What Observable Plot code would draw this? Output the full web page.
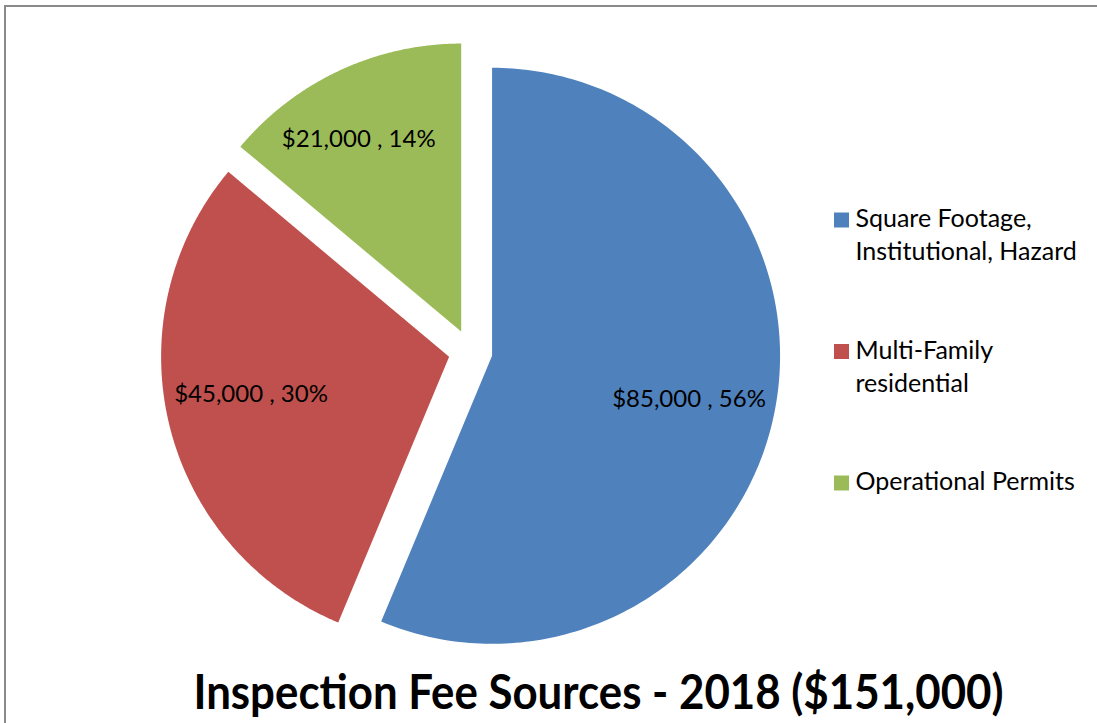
<!DOCTYPE html>
<html>
<head>
<meta charset="utf-8">
<script src="https://cdn.jsdelivr.net/npm/d3@7"></script>
<script src="https://cdn.jsdelivr.net/npm/@observablehq/plot@0.6"></script>
<style>
  html, body { margin: 0; padding: 0; background: #fff; }
  #wrap { position: relative; width: 1097px; height: 723px; overflow: hidden; }
  #frame { position: absolute; left: 4px; top: 5px; width: 1200px; height: 800px;
           border-top: 2px solid #8a8a8a; border-left: 2px solid #8a8a8a; box-sizing: border-box; }
  #chart { position: absolute; left: 0; top: 0; }
</style>
</head>
<body>
<div id="wrap"><div id="frame"></div><div id="chart"></div></div>
<script>
// ---- data ----
const categories = ["Square Footage, Institutional, Hazard", "Multi-Family residential", "Operational Permits"];
const values = [85000, 45000, 21000];
const legendLines = [["Square Footage,", "Institutional, Hazard"], ["Multi-Family", "residential"], ["Operational Permits"]];
const colors = ["#4F81BD", "#C0504D", "#9BBB59"];
const title = "Inspection Fee Sources - 2018 ($151,000)";

// ---- layout ----
const W = 1097, H = 723;
const cx = 470, cy = 351, R = 288, explode = 22;
const labelRadius = [0.70, 0.70, 0.757];
const labelShiftDeg = [1, 3, -3];
const font = "Lato, 'Open Sans', sans-serif";

const total = d3.sum(values);
const fmt = d3.format(",");
const rows = categories.map((name, i) => ({name, value: values[i], i}));
const arcs = d3.pie().sort(null).value(d => d.value).startAngle(0).endAngle(2 * Math.PI)(rows);

const polar = (ox, oy, r, a) => [ox + r * Math.sin(a), oy - r * Math.cos(a)];

const slicePts = [];
const labels = [];
arcs.forEach(a => {
  const mid = (a.startAngle + a.endAngle) / 2;
  const [ox, oy] = polar(cx, cy, explode, mid);
  slicePts.push({name: a.data.name, x: ox, y: oy});
  const n = 200;
  for (let k = 0; k <= n; k++) {
    const t = a.startAngle + (a.endAngle - a.startAngle) * k / n;
    const [x, y] = polar(ox, oy, R, t);
    slicePts.push({name: a.data.name, x, y});
  }
  const la = mid + labelShiftDeg[a.data.i] * Math.PI / 180;
  const [lx, ly] = polar(ox, oy, R * labelRadius[a.data.i], la);
  labels.push({x: lx, y: ly, text: `$${fmt(a.data.value)} , ${Math.round(a.data.value / total * 100)}%`});
});

// legend layout
const legX = 834, legSize = 15, legY0 = 220, legStep = 131.5, legLine = 33;
const legSquares = categories.map((name, i) => ({name, y: legY0 + i * legStep}));
const legText = [];
legendLines.forEach((lines, i) => lines.forEach((t, j) => legText.push({t, y: legY0 - 1.5 + i * legStep + j * legLine})));

const plot = Plot.plot({
  width: W, height: H,
  margin: 0,
  x: {domain: [0, W], range: [0, W], axis: null},
  y: {domain: [0, H], range: [0, H], axis: null},
  color: {domain: categories, range: colors},
  style: {background: "transparent", fontFamily: font},
  marks: [
    Plot.line(slicePts, {x: "x", y: "y", z: "name", fill: "name", stroke: "none", curve: "linear-closed"}),
    Plot.text(labels, {x: "x", y: "y", text: "text", fontSize: 24, fill: "#000", textAnchor: "middle", lineAnchor: "middle", fontFamily: font}),
    Plot.rect(legSquares, {x1: legX, x2: legX + legSize, y1: d => d.y - legSize / 2, y2: d => d.y + legSize / 2, fill: "name"}),
    Plot.text(legText, {x: legX + 21, y: "y", text: "t", fontSize: 25, fill: "#000", textAnchor: "start", lineAnchor: "middle", fontFamily: font}),
    Plot.text([title], {x: 598, y: 708, text: d => d, fontSize: 48, fontWeight: "bold", fill: "#000", textAnchor: "middle", lineAnchor: "bottom", fontFamily: font})
  ]
});
d3.select(plot).selectAll("text").filter(function() { return this.textContent === title; })
  .attr("textLength", 810).attr("lengthAdjust", "spacingAndGlyphs");
document.getElementById("chart").appendChild(plot);
</script>
</body>
</html>
